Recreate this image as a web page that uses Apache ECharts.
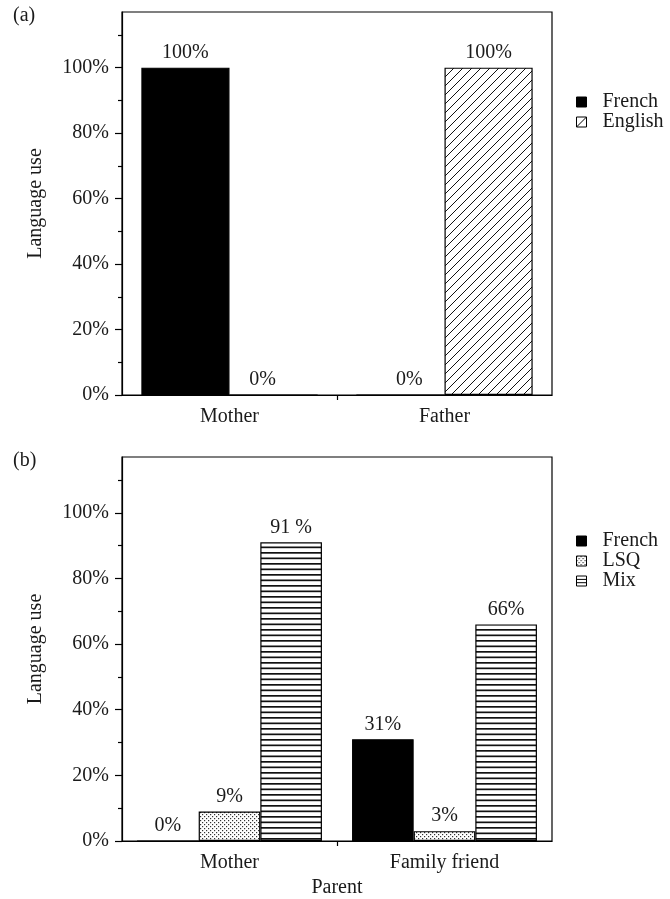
<!DOCTYPE html>
<html>
<head>
<meta charset="utf-8">
<script src="https://cdn.jsdelivr.net/npm/echarts@6/dist/echarts.min.js"></script>
<style>
  html, body { margin: 0; padding: 0; background: #fff; }
  #chart { width: 670px; height: 899px; }
</style>
</head>
<body>
<div id="chart"></div>
<script>
// Panel (a): language use by each parent
const categoriesA = ['Mother', 'Father'];
const frenchA = [100, 0];
const englishA = [0, 100];

// Panel (b): language use by mother and family friend
const categoriesB = ['Mother', 'Family friend'];
const frenchB = [0, 31];
const lsqB = [9, 3];
const mixB = [91, 66];
const mixLabelJoin = [' ', ''];   // "91 %" is typeset with a space

// Value-axis ticks
const yMajorTicks = [0, 20, 40, 60, 80, 100];
const yMinorTicks = [10, 30, 50, 70, 90, 110];
const yMax = 117;

const FONT = 'Liberation Serif, Times New Roman, serif';
const INK = '#1a1a1a';

// ---- fill patterns ----
function makeCanvas(w, h, draw) {
  const c = document.createElement('canvas');
  c.width = w; c.height = h;
  const ctx = c.getContext('2d');
  ctx.fillStyle = '#fff';
  ctx.fillRect(0, 0, w, h);
  draw(ctx);
  return c;
}
const hatch = makeCanvas(9, 9, ctx => {
  ctx.strokeStyle = '#111';
  ctx.lineWidth = 1;
  ctx.beginPath();
  ctx.moveTo(-1, 10); ctx.lineTo(10, -1);
  ctx.moveTo(-1, 1); ctx.lineTo(1, -1);
  ctx.moveTo(8, 10); ctx.lineTo(10, 8);
  ctx.stroke();
});
const stripes = makeCanvas(8, 11, ctx => {
  ctx.fillStyle = '#111';
  ctx.fillRect(0, 2, 8, 1.7);
  ctx.fillRect(0, 7.5, 8, 1.7);
});
const dots = makeCanvas(4, 4, ctx => {
  ctx.fillStyle = '#333';
  ctx.fillRect(0, 0, 1.2, 1.2);
  ctx.fillRect(2, 2, 1.2, 1.2);
});
const pat = c => ({ image: c, repeat: 'repeat' });

const border = { borderColor: '#000', borderWidth: 1.2 };

function barLabel(extra) {
  return Object.assign({
    show: true, position: 'top', distance: 5,
    fontFamily: FONT, fontSize: 20, color: INK,
    formatter: p => p.value + '%'
  }, extra || {});
}

// small horizontal nudges for the 0% labels in panel (a)
const zeroLabelShiftA = { French: [0, 9], English: [-11, 0] };
function itemsA(values, name) {
  return values.map((v, i) => ({
    value: v,
    label: { offset: [zeroLabelShiftA[name][i], 0] }
  }));
}

function valueAxes(gridIndex) {
  return [
    {
      type: 'value', gridIndex, min: 0, max: yMax, interval: 20, position: 'left',
      name: 'Language use', nameLocation: 'middle', nameGap: 76,
      nameTextStyle: { fontFamily: FONT, fontSize: 20, color: INK },
      axisLine: { show: true, lineStyle: { color: '#000', width: 1.2 } },
      axisTick: { show: true, length: 7, customValues: yMajorTicks, lineStyle: { color: '#000', width: 1.2 } },
      axisLabel: {
        customValues: yMajorTicks, margin: 13,
        fontFamily: FONT, fontSize: 20, color: INK,
        formatter: v => (v % 20 === 0 && v <= 100) ? v + '%' : ''
      },
      splitLine: { show: false }
    },
    {
      type: 'value', gridIndex, min: 0, max: yMax, interval: 10, position: 'left',
      axisLine: { show: false },
      axisTick: { show: true, length: 4, customValues: yMinorTicks, lineStyle: { color: '#000', width: 1.2 } },
      axisLabel: { show: false },
      splitLine: { show: false }
    }
  ];
}

function categoryAxes(gridIndex, cats, extra) {
  return [
    Object.assign({
      type: 'category', gridIndex, data: cats,
      axisLine: { show: true, lineStyle: { color: '#000', width: 1.2 } },
      axisTick: { show: false },
      axisLabel: { margin: 12, fontFamily: FONT, fontSize: 20, color: INK }
    }, extra || {}),
    {
      // separator tick between the two categories
      type: 'value', gridIndex, min: 0, max: 2, interval: 1, position: 'bottom',
      axisLine: { show: false },
      axisTick: { show: true, length: 5, customValues: [1], lineStyle: { color: '#000', width: 1.2 } },
      axisLabel: { show: false },
      splitLine: { show: false }
    }
  ];
}

const gridBase = {
  left: 122, width: 430, show: true, borderColor: '#000', borderWidth: 1.2,
  containLabel: false, outerBoundsMode: 'none'
};

const legendBase = {
  orient: 'vertical', left: 576, padding: 0, itemWidth: 10, itemHeight: 10, itemGap: 0,
  textStyle: { fontFamily: FONT, fontSize: 20, color: INK, lineHeight: 20, padding: [0, 0, 0, 11] },
  itemStyle: { borderColor: '#000', borderWidth: 1 },
  selectedMode: false
};

const option = {
  animation: false,
  backgroundColor: '#fff',
  grid: [
    Object.assign({ top: 12, height: 383 }, gridBase),
    Object.assign({ top: 457, height: 384 }, gridBase)
  ],
  xAxis: [
    ...categoryAxes(0, categoriesA),
    ...categoryAxes(1, categoriesB, {
      name: 'Parent', nameLocation: 'middle', nameGap: 37,
      nameTextStyle: { fontFamily: FONT, fontSize: 20, color: INK }
    })
  ],
  yAxis: [...valueAxes(0), ...valueAxes(1)],
  legend: [
    Object.assign({
      top: 92,
      data: [
        { name: 'French', icon: 'rect' },
        { name: 'English', icon: 'path://M0 0H10V10H0Z M0 10L10 0', itemStyle: { color: '#fff' } }
      ]
    }, legendBase),
    Object.assign({
      top: 531,
      data: [
        { name: 'French', icon: 'rect' },
        { name: 'LSQ', icon: 'rect' },
        { name: 'Mix', icon: 'path://M0 0H10V10H0Z M0 3.4H10 M0 6.7H10', itemStyle: { color: '#fff' } }
      ]
    }, legendBase)
  ],
  series: [
    {
      name: 'French', type: 'bar', xAxisIndex: 0, yAxisIndex: 0,
      data: itemsA(frenchA, 'French'), barGap: 0, barCategoryGap: '18%',
      itemStyle: Object.assign({ color: '#000' }, border), label: barLabel()
    },
    {
      name: 'English', type: 'bar', xAxisIndex: 0, yAxisIndex: 0,
      data: itemsA(englishA, 'English'), barGap: 0, barCategoryGap: '18%',
      itemStyle: Object.assign({ color: pat(hatch) }, border), label: barLabel()
    },
    {
      name: 'French', type: 'bar', xAxisIndex: 2, yAxisIndex: 2,
      data: frenchB, barGap: 0, barCategoryGap: '14%',
      itemStyle: Object.assign({ color: '#000' }, border), label: barLabel()
    },
    {
      name: 'LSQ', type: 'bar', xAxisIndex: 2, yAxisIndex: 2,
      data: lsqB, barGap: 0, barCategoryGap: '14%',
      itemStyle: Object.assign({ color: pat(dots) }, border), label: barLabel()
    },
    {
      name: 'Mix', type: 'bar', xAxisIndex: 2, yAxisIndex: 2,
      data: mixB, barGap: 0, barCategoryGap: '14%',
      itemStyle: Object.assign({ color: pat(stripes) }, border),
      label: barLabel({ formatter: p => p.value + mixLabelJoin[p.dataIndex] + '%' })
    }
  ],
  graphic: [
    { type: 'text', left: 13, top: 6, style: { text: '(a)', fontFamily: FONT, fontSize: 20, fill: INK } },
    { type: 'text', left: 13, top: 451, style: { text: '(b)', fontFamily: FONT, fontSize: 20, fill: INK } }
  ]
};

const chart = echarts.init(document.getElementById('chart'), null, { renderer: 'canvas' });
chart.setOption(option);
</script>
</body>
</html>
